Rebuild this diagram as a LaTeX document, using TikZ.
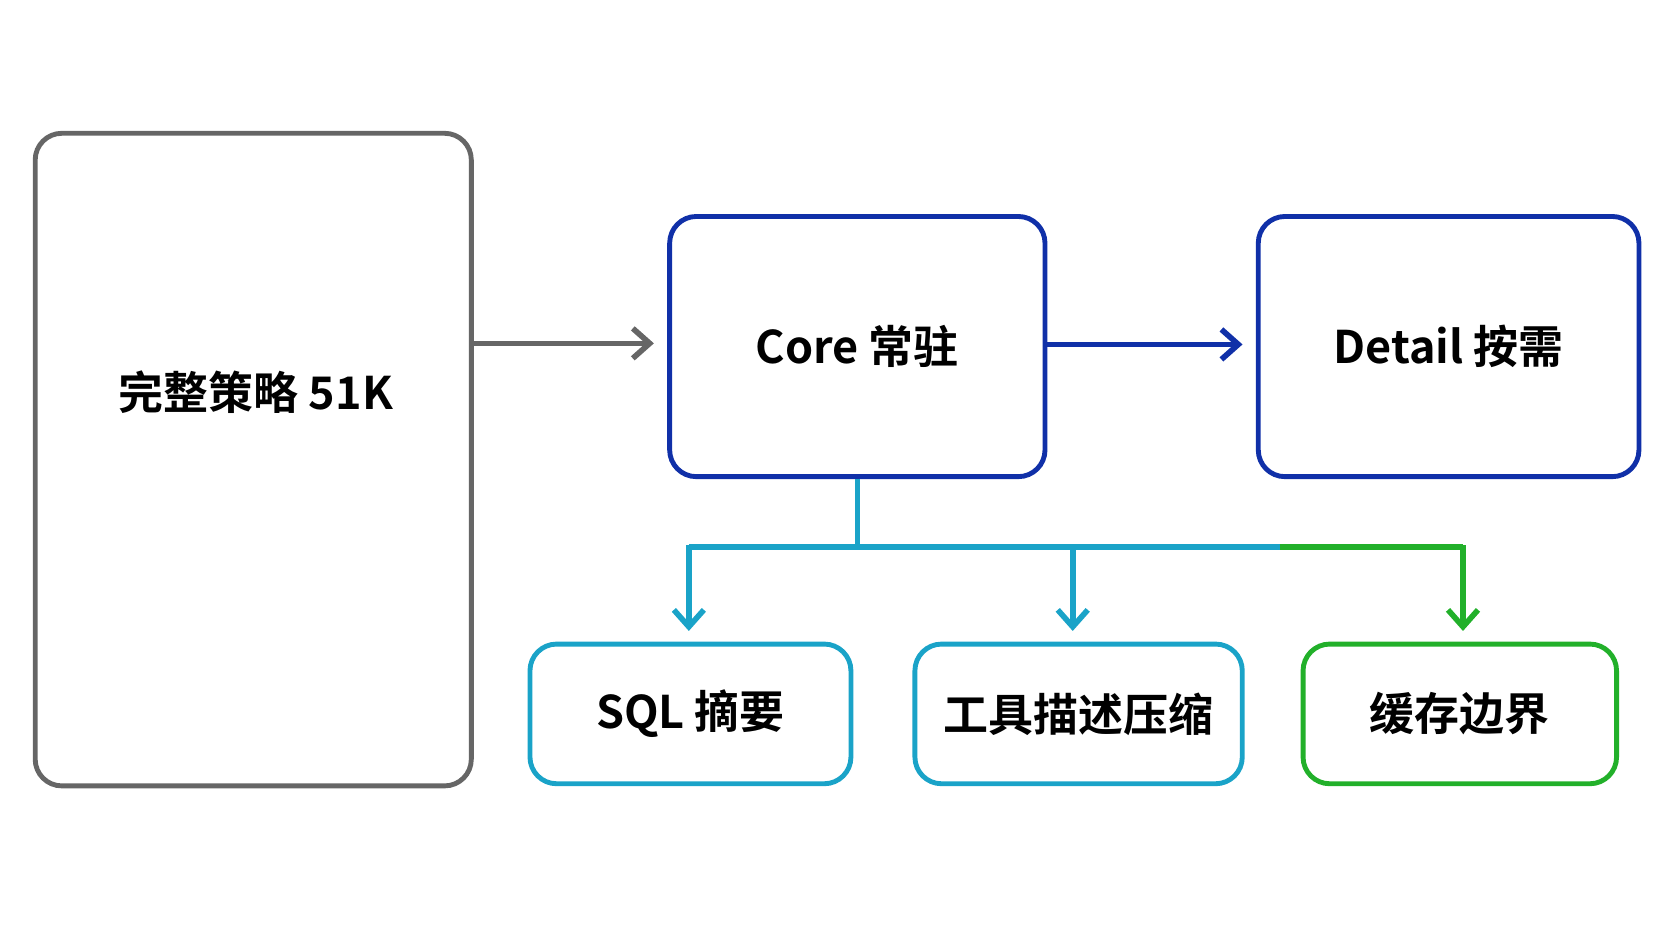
\documentclass[tikz,border=0pt]{standalone}
\usepackage{fontspec}
\setmainfont{Noto Sans CJK SC}[BoldFont={Noto Sans CJK SC Bold}]
\usetikzlibrary{arrows.meta}
\definecolor{cgray}{HTML}{666666}
\definecolor{cblue}{HTML}{1030A8}
\definecolor{ccyan}{HTML}{1AA3C8}
\definecolor{cgreen}{HTML}{22B02A}
\begin{document}
\begin{tikzpicture}[x=0.02cm,y=-0.02cm,
  box/.style={line width=2.6pt,rounded corners=0.5cm,fill=white,text=black,font=\fontsize{24}{28}\selectfont\bfseries},
  ln/.style={line width=3pt},
  arr/.style={line width=3pt,-{Straight Barb[length=9pt,width=16pt]}}]
\useasboundingbox (0,0) rectangle (1568,882);
\node[box,draw=cgray,minimum width=409*0.02cm,minimum height=612*0.02cm] (full) at (237.5,431) {};
\node[font=\fontsize{24}{28}\selectfont\bfseries] (fullt) at (240,368) {完整策略 51K};
\node[box,draw=cblue,minimum width=352*0.02cm,minimum height=244*0.02cm] (core) at (804,325) {Core 常驻};
\node[box,draw=cblue,minimum width=357*0.02cm,minimum height=244*0.02cm] (det) at (1358.5,325) {Detail 按需};
\node[box,draw=ccyan,minimum width=301*0.02cm,minimum height=131*0.02cm] (sql) at (647.5,669.5) {SQL 摘要};
\node[box,draw=ccyan,minimum width=307*0.02cm,minimum height=131*0.02cm] (tool) at (1011.5,669.5) {工具描述压缩};
\node[box,draw=cgreen,minimum width=294*0.02cm,minimum height=131*0.02cm] (cache) at (1369,669.5) {缓存边界};
\draw[arr,cgray] (full.east |- 0,322) -- ([xshift=-0.25cm]core.west |- 0,322);
\draw[arr,cblue] (core.east |- 0,323) -- ([xshift=-0.25cm]det.west |- 0,323);
\coordinate (j) at (804,513);
\draw[ln,ccyan] (core.south) -- (j);
\draw[ln,ccyan] (646,513) -- (1200,513);
\draw[ln,cgreen] (1200,513) -- (1372,513);
\draw[arr,ccyan] (646,511.5) -- ([yshift=0.2cm]sql.north -| 646,0);
\draw[arr,ccyan] (1006,513) -- ([yshift=0.2cm]tool.north -| 1006,0);
\draw[arr,cgreen] (1372,511.5) -- ([yshift=0.2cm]cache.north -| 1372,0);
\end{tikzpicture}
\end{document}
